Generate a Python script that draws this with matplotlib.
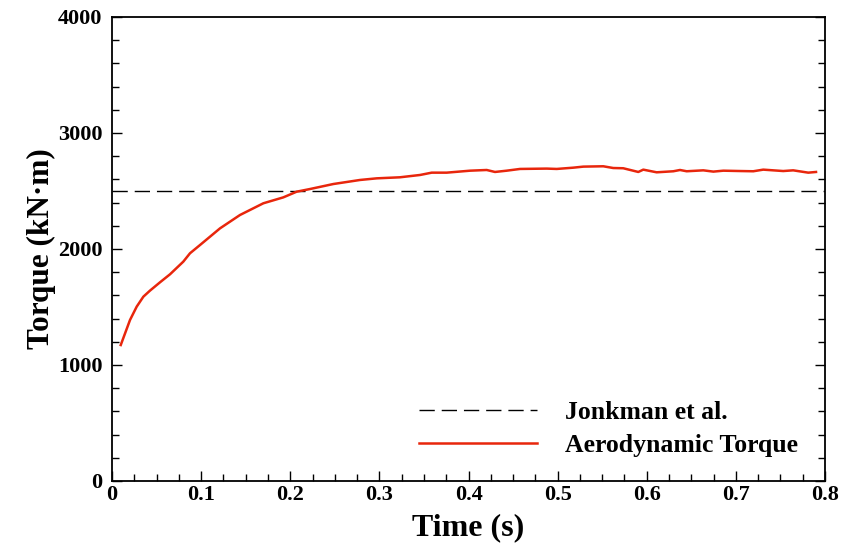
import matplotlib
matplotlib.use('Agg')
import matplotlib.pyplot as plt
from matplotlib.ticker import MultipleLocator

# aerodynamic torque
time_s = [0.0098, 0.0202, 0.0277, 0.0352, 0.0426, 0.0539, 0.0651, 0.080, 0.0875,
          0.0987, 0.1212, 0.1436, 0.1698, 0.1922, 0.2072, 0.2222, 0.2483, 0.2783,
          0.2970, 0.3230, 0.3456, 0.3587, 0.3755, 0.4017, 0.4204, 0.4297, 0.4428,
          0.4578, 0.4877, 0.4990, 0.5176, 0.5288, 0.5512, 0.5624, 0.5736, 0.5905,
          0.5961, 0.6111, 0.6298, 0.6373, 0.6448, 0.6634, 0.6747, 0.6859, 0.7046,
          0.7195, 0.7307, 0.7531, 0.7643, 0.7812, 0.7899]
torque = [1172, 1388, 1503, 1589, 1641, 1713, 1782, 1891, 1963,
          2034, 2178, 2293, 2394, 2445, 2494, 2517, 2560, 2595,
          2609, 2618, 2638, 2658, 2658, 2675, 2681, 2664, 2675,
          2690, 2693, 2690, 2701, 2710, 2713, 2698, 2696, 2664,
          2684, 2661, 2670, 2681, 2670, 2678, 2667, 2675, 2672,
          2670, 2684, 2672, 2678, 2658, 2664]
jonkman_torque = 2500

plt.rcParams['font.family'] = 'Liberation Serif'
plt.rcParams['font.weight'] = 'bold'

fig = plt.figure(figsize=(8.46, 5.48), dpi=100)
ax = fig.add_axes([0.1324, 0.1223, 0.8428, 0.8467])

ax.axhline(jonkman_torque, color='black', lw=1.0, ls=(0, (11, 5)),
           label='Jonkman et al.')
ax.plot(time_s, torque, color='#e8260c', lw=1.8, label='Aerodynamic Torque')

ax.set_xlim(0, 0.8)
ax.set_ylim(0, 4000)
ax.xaxis.set_major_locator(MultipleLocator(0.1))
ax.xaxis.set_minor_locator(MultipleLocator(0.025))
ax.yaxis.set_major_locator(MultipleLocator(1000))
ax.yaxis.set_minor_locator(MultipleLocator(200))
ax.xaxis.set_major_formatter(plt.FuncFormatter(lambda v, p: '0' if v == 0 else '%g' % v))

ax.tick_params(which='both', direction='in', right=True, top=False,
               labelsize=16, width=1.0)
ax.tick_params(which='major', length=7)
ax.tick_params(axis='y', which='major', pad=7)
ax.tick_params(axis='x', which='major', pad=3)
ax.tick_params(which='minor', length=5)
for lab in ax.get_xticklabels() + ax.get_yticklabels():
    lab.set_fontweight('bold')
for sp in ax.spines.values():
    sp.set_linewidth(1.3)

ax.set_xlabel('Time (s)', fontsize=23, fontweight='bold', labelpad=6)
ax.set_ylabel('Torque (kN·m)', fontsize=22.5, fontweight='bold', labelpad=1)

leg = ax.legend(loc='lower right', bbox_to_anchor=(0.995, 0.002), frameon=False,
                prop={'size': 18.5, 'weight': 'bold'}, handlelength=4.6,
                handletextpad=1.1, labelspacing=0.38)

fig.savefig('out.png', dpi=100)
